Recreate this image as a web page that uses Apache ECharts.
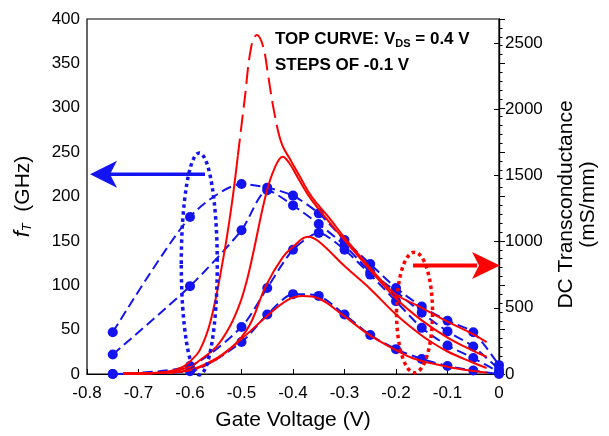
<!DOCTYPE html>
<html><head><meta charset="utf-8">
<script src="https://cdn.jsdelivr.net/npm/echarts@6/dist/echarts.min.js"></script>
<style>html,body{margin:0;padding:0;background:#fff}#c{width:609px;height:436px}</style>
</head><body><div id="c"></div>
<script>
// ---- fT (GHz), left axis: blue dashed with markers ----
const gateV = [-0.75, -0.6, -0.5, -0.45, -0.4, -0.35, -0.3, -0.25, -0.2, -0.15, -0.1, -0.05, 0];
const ftA = [47, 177, 214, 210, 201, 181, 151, 124, 97, 76, 60, 47, 10];
const ftB = [22, 99, 162, 207, 190, 169, 145, 115, 93, 69, 48, 31, 5];
const ftC = [0, 9, 53, 97, 140, 159, 140, 112, 82, 52, 32, 18, 2];
const ftD = [0, 3, 36, 67, 90, 88, 67, 44, 28, 17, 9, 4, 0];

// ---- DC transconductance (mS/mm), right axis: red ----
const gm1LeftV = [-0.73, -0.68, -0.64, -0.614, -0.6, -0.581, -0.56, -0.536, -0.52, -0.507];
const gm1Left  = [3, 6, 20, 54, 95, 180, 400, 860, 1250, 1650];
const gm1PeakV = [-0.507, -0.494, -0.481, -0.47, -0.458, -0.449, -0.44, -0.43];
const gm1Peak  = [1650, 2069, 2472, 2560, 2472, 2273, 2050, 1850];
const gm1RightV = [-0.43, -0.42, -0.407, -0.388, -0.364, -0.33, -0.3, -0.25, -0.232, -0.2, -0.15, -0.1, -0.05, -0.024];
const gm1Right  = [1850, 1720, 1630, 1500, 1340, 1180, 1030, 800, 722, 600, 500, 395, 300, 240];
const gm2V = [-0.73, -0.68, -0.64, -0.6, -0.581, -0.549, -0.523, -0.503, -0.49, -0.478, -0.452, -0.435, -0.42, -0.407, -0.388, -0.364, -0.3, -0.25, -0.2, -0.15, -0.1, -0.05, -0.024];
const gm2  = [3, 6, 15, 55, 104, 205, 356, 533, 700, 900, 1364, 1560, 1640, 1591, 1465, 1314, 1010, 785, 570, 405, 275, 175, 130];
const gm3V = [-0.73, -0.66, -0.62, -0.587, -0.542, -0.49, -0.452, -0.42, -0.4, -0.371, -0.35, -0.3, -0.251, -0.2, -0.15, -0.135, -0.1, -0.05, -0.024];
const gm3  = [3, 8, 16, 42, 129, 331, 671, 880, 960, 1036, 1000, 815, 646, 450, 290, 250, 170, 85, 45];
const gm4V = [-0.73, -0.66, -0.62, -0.555, -0.503, -0.452, -0.41, -0.381, -0.35, -0.303, -0.251, -0.2, -0.166, -0.1, -0.05, -0.024];
const gm4  = [3, 8, 16, 104, 255, 432, 560, 588, 570, 444, 293, 180, 117, 55, 22, 10];

const xTicks = [-0.8, -0.7, -0.6, -0.5, -0.4, -0.3, -0.2, -0.1, 0];

const BLUE = '#1414f0';
const RED = '#ff0000';
const FONT = 'Liberation Sans';

const zip = (xs, ys) => xs.map((x, i) => [x, ys[i]]);

const blueSeries = [ftA, ftB, ftC, ftD].map((d, i) => ({
  name: 'fT' + i, type: 'line', yAxisIndex: 0, data: zip(gateV, d),
  smooth: 0.25, symbol: 'circle', symbolSize: 10,
  itemStyle: { color: BLUE },
  lineStyle: { color: BLUE, width: 2, type: [10, 5] },
  z: 3, animation: false
}));

const redLine = (xs, ys, dashed) => ({
  type: 'line', yAxisIndex: 1, data: zip(xs, ys), smooth: 0.4, showSymbol: false,
  lineStyle: { color: RED, width: 2, type: dashed ? [17, 7] : 'solid' },
  z: 4, animation: false
});

const redSeries = [
  redLine(gm1LeftV, gm1Left, false),
  redLine(gm1PeakV, gm1Peak, true),
  redLine(gm1RightV, gm1Right, false),
  redLine(gm2V, gm2, false),
  redLine(gm3V, gm3, false),
  redLine(gm4V, gm4, false)
];

const chart = echarts.init(document.getElementById('c'), null, { renderer: 'canvas' });

const option = {
  animation: false,
  textStyle: { fontFamily: FONT },
  grid: { left: 87, right: 110, top: 19, bottom: 62, show: true, borderColor: '#000', borderWidth: 1.2, backgroundColor: 'transparent' },
  xAxis: {
    type: 'value', min: -0.8, max: 0, interval: 0.1,
    name: 'Gate Voltage (V)', nameLocation: 'middle', nameGap: 36,
    nameTextStyle: { fontSize: 21, color: '#000', fontFamily: FONT },
    axisLine: { lineStyle: { color: '#000', width: 1.2 } },
    axisTick: { inside: true, length: 5, lineStyle: { color: '#000' } },
    axisLabel: { fontSize: 17, color: '#000', margin: 11, fontFamily: FONT,
      formatter: v => { const t = xTicks.find(k => Math.abs(k - v) < 1e-6); return t === undefined ? '' : (t === 0 ? '0' : t.toFixed(1)); } },
    splitLine: { show: false }
  },
  yAxis: [
    {
      type: 'value', min: 0, max: 400, interval: 50, position: 'left',
      name: '{i|f}{s|T}  (GHz)', nameLocation: 'middle', nameGap: 53, nameRotate: 90,
      nameTextStyle: { fontSize: 21, color: '#000', fontFamily: FONT,
        rich: { i: { fontStyle: 'italic', fontSize: 22, fontFamily: FONT, color: '#000' },
                s: { fontStyle: 'italic', fontSize: 13, fontFamily: FONT, color: '#000', verticalAlign: 'bottom', padding: [8, 0, 0, 0] } } },
      axisLine: { show: true, lineStyle: { color: '#000', width: 1.2 } },
      axisTick: { show: true, inside: true, length: 6, lineStyle: { color: '#000' } },
      minorTick: { show: true, splitNumber: 5, length: 3.5, lineStyle: { color: '#000' } },
      axisLabel: { fontSize: 17, color: '#000', margin: 7, fontFamily: FONT },
      splitLine: { show: false }
    },
    {
      type: 'value', min: 0, max: 2680, interval: 500, position: 'right',
      name: 'DC Transconductance\n(mS/mm)', nameLocation: 'middle', nameGap: 56, nameRotate: 90,
      nameTextStyle: { fontSize: 21, color: '#000', fontFamily: FONT, lineHeight: 22, padding: [0, 16, 0, 0] },
      axisLine: { show: true, lineStyle: { color: '#000', width: 1.2 } },
      axisTick: { show: true, inside: true, length: 5, lineStyle: { color: '#000' } },
      axisLabel: { fontSize: 17, color: '#000', margin: 6, fontFamily: FONT,
        formatter: v => (Math.abs(v % 500) < 1e-6 ? String(v) : ''), showMaxLabel: false },
      splitLine: { show: false }
    }
  ],
  series: blueSeries.concat(redSeries)
};
chart.setOption(option);

// ---- annotations (ellipses, arrows, note text) ----
const px = (v, y, idx) => chart.convertToPixel({ xAxisIndex: 0, yAxisIndex: idx }, [v, y]);
const bC = px(-0.582, 124, 0);
const bTop = px(-0.582, 249, 0);
const rC = px(-0.164, 465, 1);
const rTop = px(-0.164, 920, 1);
const blueArrowY = px(0, 225, 0)[1];
const redArrowY = px(0, 820, 1)[1];
const x0 = px(-0.8, 0, 0)[0], x1 = px(0, 0, 0)[0];

chart.setOption({
  graphic: [
    { type: 'ellipse', shape: { cx: bC[0], cy: bC[1], rx: 18, ry: bC[1] - bTop[1] },
      style: { fill: 'none', stroke: BLUE, lineWidth: 3.5, lineDash: [3.5, 3.5] }, z: 10 },
    { type: 'ellipse', shape: { cx: rC[0], cy: rC[1], rx: 18, ry: rC[1] - rTop[1] },
      style: { fill: 'none', stroke: RED, lineWidth: 3.5, lineDash: [3.5, 3.5] }, z: 10 },
    { type: 'line', shape: { x1: x0 + 22, y1: blueArrowY, x2: 205, y2: blueArrowY },
      style: { stroke: BLUE, lineWidth: 3.5 }, z: 10 },
    { type: 'polygon', shape: { points: [[x0 + 3, blueArrowY], [x0 + 30, blueArrowY - 13.5], [x0 + 23, blueArrowY], [x0 + 30, blueArrowY + 13.5]] },
      style: { fill: BLUE }, z: 10 },
    { type: 'line', shape: { x1: 413, y1: redArrowY, x2: x1 - 22, y2: redArrowY },
      style: { stroke: RED, lineWidth: 4 }, z: 10 },
    { type: 'polygon', shape: { points: [[x1 + 1, redArrowY], [x1 - 27, redArrowY - 13.5], [x1 - 20, redArrowY], [x1 - 27, redArrowY + 13.5]] },
      style: { fill: RED }, z: 10 },
    { type: 'text', x: 275, y: 39, z: 12,
      style: { text: '{b|TOP CURVE: V}{sub|DS}{b| = 0.4 V}', verticalAlign: 'middle',
        rich: { b: { font: 'bold 17px "Liberation Sans"', fill: '#000' },
                sub: { font: 'bold 11px "Liberation Sans"', fill: '#000', padding: [9, 0, 0, 0] } } } },
    { type: 'text', x: 275, y: 65, z: 12,
      style: { text: 'STEPS OF -0.1 V', font: 'bold 17px "Liberation Sans"', fill: '#000', verticalAlign: 'middle' } }
  ]
});
</script></body></html>
